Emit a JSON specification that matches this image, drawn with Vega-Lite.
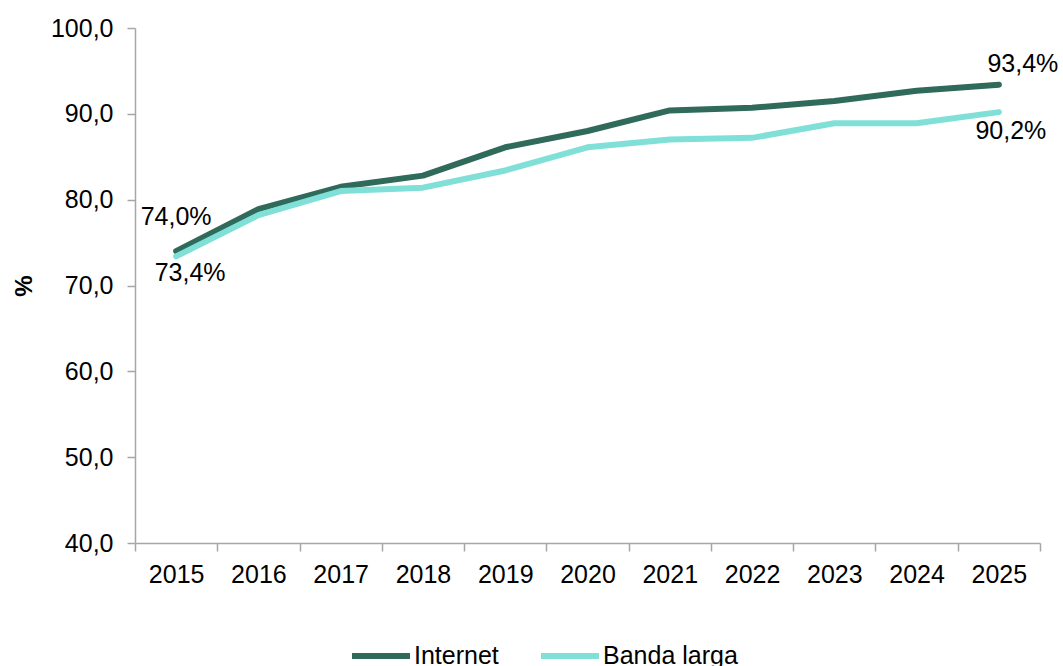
{
  "$schema": "https://vega.github.io/schema/vega-lite/v6.json",
  "width": 905,
  "height": 515,
  "autosize": {"type": "none"},
  "padding": {"left": 135, "top": 28, "right": 23, "bottom": 123},
  "background": "white",
  "config": {
    "view": {"stroke": null},
    "font": "Liberation Sans",
    "axis": {"grid": false, "domainColor": "#A6A6A6", "tickColor": "#A6A6A6", "domainWidth": 1.5, "tickWidth": 1.5, "labelColor": "#000000", "labelFont": "Liberation Sans", "labelFontSize": 25, "tickSize": 8}
  },
  "data": {
    "values": [
      {"year": "2015", "serie": "Internet", "value": 74.0},
      {"year": "2016", "serie": "Internet", "value": 78.9},
      {"year": "2017", "serie": "Internet", "value": 81.5},
      {"year": "2018", "serie": "Internet", "value": 82.8},
      {"year": "2019", "serie": "Internet", "value": 86.1},
      {"year": "2020", "serie": "Internet", "value": 88.0},
      {"year": "2021", "serie": "Internet", "value": 90.4},
      {"year": "2022", "serie": "Internet", "value": 90.7},
      {"year": "2023", "serie": "Internet", "value": 91.5},
      {"year": "2024", "serie": "Internet", "value": 92.7},
      {"year": "2025", "serie": "Internet", "value": 93.4},
      {"year": "2015", "serie": "Banda larga", "value": 73.4},
      {"year": "2016", "serie": "Banda larga", "value": 78.2},
      {"year": "2017", "serie": "Banda larga", "value": 81.0},
      {"year": "2018", "serie": "Banda larga", "value": 81.4},
      {"year": "2019", "serie": "Banda larga", "value": 83.4},
      {"year": "2020", "serie": "Banda larga", "value": 86.1},
      {"year": "2021", "serie": "Banda larga", "value": 87.0},
      {"year": "2022", "serie": "Banda larga", "value": 87.2},
      {"year": "2023", "serie": "Banda larga", "value": 88.9},
      {"year": "2024", "serie": "Banda larga", "value": 88.9},
      {"year": "2025", "serie": "Banda larga", "value": 90.2}
    ]
  },
  "transform": [
    {"calculate": "replace(format(datum.value, '.1f'), '.', ',') + '%'", "as": "label"}
  ],
  "encoding": {
    "x": {
      "field": "year", "type": "ordinal", "bandPosition": 0.5,
      "scale": {"type": "band", "paddingInner": 0, "paddingOuter": 0},
      "axis": {"title": null, "labelAngle": 0, "tickBand": "extent", "labelPadding": 11}
    },
    "y": {
      "field": "value", "type": "quantitative",
      "scale": {"domain": [40, 100], "nice": false, "zero": false},
      "axis": {"title": "%", "titleFontSize": 24, "titleFontWeight": "bold", "titleColor": "#000000", "titlePadding": 14, "values": [40, 50, 60, 70, 80, 90, 100], "labelExpr": "replace(format(datum.value, '.1f'), '.', ',')", "labelPadding": 14}
    }
  },
  "layer": [
    {
      "mark": {"type": "line", "strokeWidth": 6, "strokeCap": "round", "strokeJoin": "round"},
      "encoding": {
        "color": {
          "field": "serie", "type": "nominal",
          "scale": {"domain": ["Internet", "Banda larga"], "range": ["#2F6A5A", "#80E0D8"]},
          "legend": {"title": null, "orient": "none", "direction": "horizontal", "legendX": 214, "legendY": 596, "symbolType": "stroke", "symbolSize": 3364, "symbolStrokeWidth": 6, "labelFontSize": 25, "labelColor": "#000000", "labelFont": "Liberation Sans", "labelOffset": 1, "columnPadding": 30}
        }
      }
    },
    {
      "transform": [{"filter": "datum.serie == 'Internet' && datum.year == '2015'"}],
      "mark": {"type": "text", "fontSize": 25, "dy": -34, "color": "#000000"},
      "encoding": {"text": {"field": "label"}}
    },
    {
      "transform": [{"filter": "datum.serie == 'Banda larga' && datum.year == '2015'"}],
      "mark": {"type": "text", "fontSize": 25, "dx": 14, "dy": 17, "color": "#000000"},
      "encoding": {"text": {"field": "label"}}
    },
    {
      "transform": [{"filter": "datum.serie == 'Internet' && datum.year == '2025'"}],
      "mark": {"type": "text", "fontSize": 25, "dx": 24, "dy": -21, "color": "#000000"},
      "encoding": {"text": {"field": "label"}}
    },
    {
      "transform": [{"filter": "datum.serie == 'Banda larga' && datum.year == '2025'"}],
      "mark": {"type": "text", "fontSize": 25, "dx": 12, "dy": 19, "color": "#000000"},
      "encoding": {"text": {"field": "label"}}
    }
  ]
}
